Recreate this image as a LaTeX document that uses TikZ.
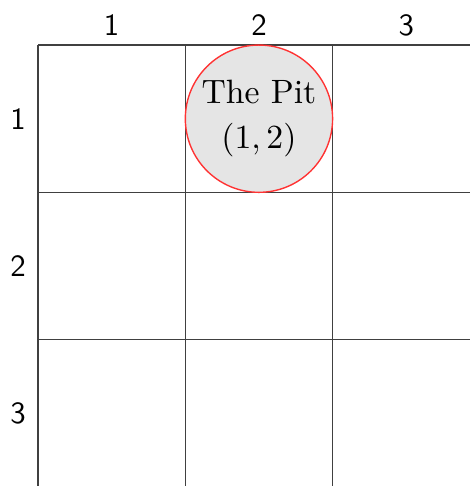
\documentclass[tikz,border=0pt]{standalone}
\usetikzlibrary{positioning}
\begin{document}
\begin{tikzpicture}[font=\normalsize]
\def\cell{1.68}
\tikzstyle{gridline}=[draw=black!75, line width=0.45pt]
\tikzstyle{lbl}=[font=\sffamily, inner sep=0pt]
\tikzstyle{pitnode}=[circle, draw=red!80, fill=gray!20, line width=0.45pt, minimum size=\cell cm, inner sep=0pt, align=center, font=\fontsize{10.95}{14.6}\selectfont]
% visible window
\clip (-0.434,0.514) rectangle (4.926,-5.03);
% board
\draw[gridline, step=\cell] (0,{-3*\cell-0.5}) grid ({3*\cell+0.5},0);
\foreach \i in {1,2,3} {
  \node[lbl] (col\i) at ({(\i-0.5)*\cell},0.229) {\i};
  \node[lbl] (row\i) at (-0.229,{-(\i-0.5)*\cell}) {\i};
}
\node[pitnode] (pit) at ({1.5*\cell},{-0.5*\cell}) {The Pit\\$(1,2)$};
\end{tikzpicture}
\end{document}
